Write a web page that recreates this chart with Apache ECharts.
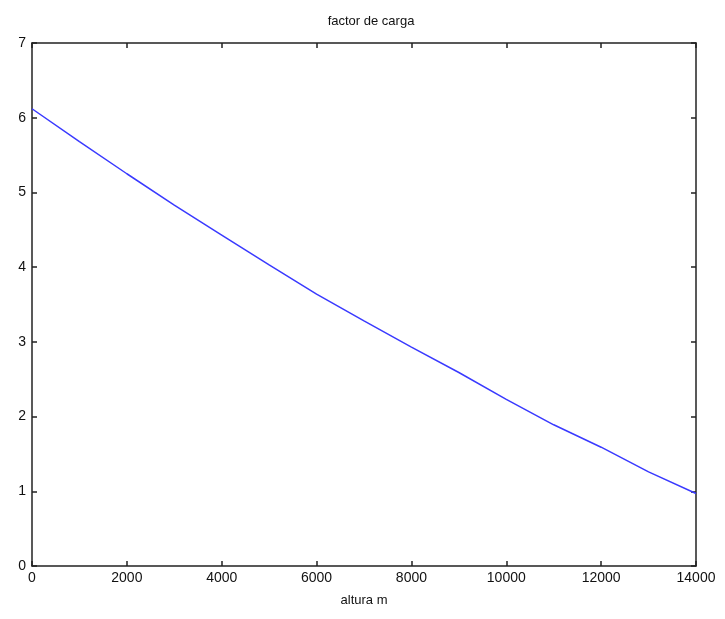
<!DOCTYPE html>
<html>
<head>
<meta charset="utf-8">
<script src="https://cdn.jsdelivr.net/npm/echarts@6/dist/echarts.min.js"></script>
<style>html,body{margin:0;padding:0;background:#fff}#c{width:725px;height:619px}</style>
</head>
<body>
<div id="c"></div>
<script>
const altura = [0,1000,2000,3000,4000,5000,6000,7000,8000,9000,10000,11000,12000,13000,14000];
const factor = [6.12,5.68,5.25,4.83,4.43,4.03,3.64,3.28,2.93,2.59,2.23,1.89,1.59,1.26,0.97];
const titleText = 'factor de carga';
const xName = 'altura m';

const font = 'Liberation Sans, Arial, sans-serif';
const chart = echarts.init(document.getElementById('c'));
const axLine = {show:true, onZero:false, lineStyle:{color:'#222', width:1.5}};
const tick = {show:true, inside:true, length:5, lineStyle:{color:'#222', width:1.5}};
chart.setOption({
  animation:false,
  title:{text:titleText, left:366, top:10, textAlign:'center',
    textStyle:{fontFamily:font, fontSize:13, fontWeight:'normal', color:'#111'}},
  grid:{left:32, right:29, top:43, bottom:53},
  xAxis:[{type:'value', min:0, max:14000, interval:2000,
    name:xName, nameLocation:'middle', nameGap:28,
    nameTextStyle:{fontFamily:font, fontSize:13, color:'#111'},
    axisLine:axLine, axisTick:tick, splitLine:{show:false},
    axisLabel:{fontFamily:font, fontSize:14, color:'#111', margin:5, formatter:v=>String(v)}},
   {type:'value', position:'top', min:0, max:14000, interval:2000,
    axisLine:axLine, axisTick:tick, splitLine:{show:false}, axisLabel:{show:false}}],
  yAxis:[{type:'value', min:0, max:7, interval:1,
    axisLine:axLine, axisTick:tick, splitLine:{show:false},
    axisLabel:{fontFamily:font, fontSize:14, color:'#111', margin:6}},
   {type:'value', position:'right', min:0, max:7, interval:1,
    axisLine:axLine, axisTick:tick, splitLine:{show:false}, axisLabel:{show:false}}],
  series:[{type:'line', data:altura.map((a,i)=>[a,factor[i]]),
    showSymbol:false, lineStyle:{color:'#3a3aff', width:1.5}}]
});
</script>
</body>
</html>
